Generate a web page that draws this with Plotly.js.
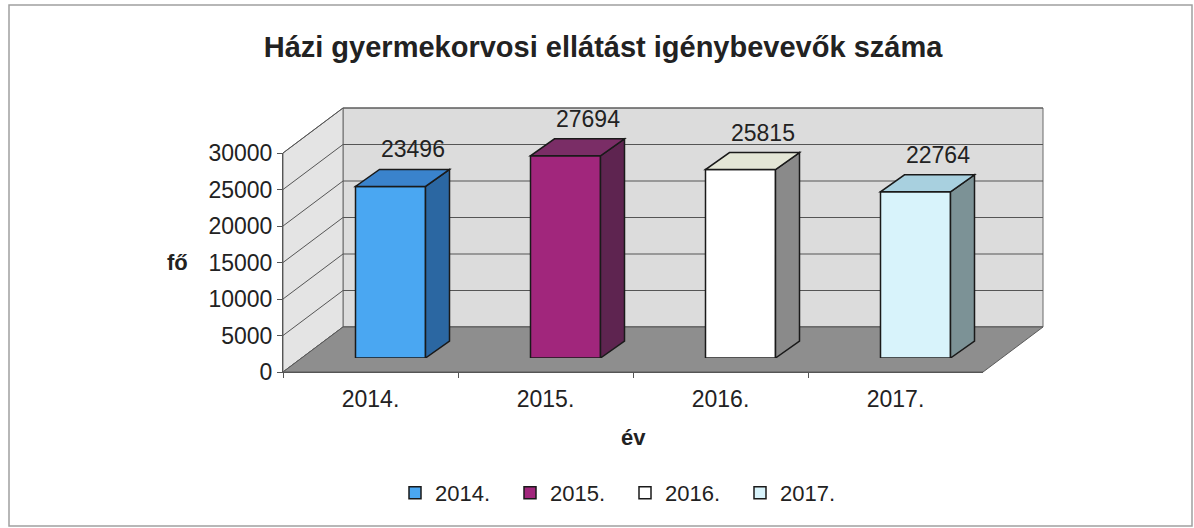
<!DOCTYPE html>
<html><head><meta charset="utf-8">
<script src="https://cdn.plot.ly/plotly-3.0.1.min.js"></script>
<style>html,body{margin:0;padding:0;background:#fff}#chart{width:1194px;height:528px}</style>
</head><body><div id="chart"></div>
<script>
// ---- data ----
const categories = ['2014.', '2015.', '2016.', '2017.'];
const values = [23496, 27694, 25815, 22764];
const yTicks = [0, 5000, 10000, 15000, 20000, 25000, 30000];
const chartTitle = 'Házi gyermekorvosi ellátást igénybevevők száma';
const xTitle = 'év';
const yTitle = 'fő';

// ---- styles ----
const frontColors = ['#4aa7f2', '#a1267c', '#ffffff', '#d8f3fb'];
const sideColors  = ['#2b67a2', '#5e2450', '#8a8a8a', '#7c9296'];
const topColors   = ['#3a83cc', '#7a2d66', '#e4e6d6', '#a8d0df'];
const FONT = '"Liberation Sans", Arial, sans-serif';
const TXT = '#222';

// ---- geometry (pixels) ----
const W = 1194, H = 528;
const YMAX = 30000, YEXT = 34000;
const G = {fx0: 283, fx1: 983, fy0: 372, fh: 219,
           barDx: 20, barDy: 14, backDx: 60, backDy: 45, depthDx: 24, depthDy: 17};
const px = x => x / W, py = y => 1 - y / H;
const n = categories.length;
const slot = (G.fx1 - G.fx0) / n;
const pxPerVal = G.fh / YMAX;
const dX = G.depthDx / slot;       // bar depth in x2 units
const dY = G.depthDy / pxPerVal;   // bar depth in y2 units
const half = 0.2;
const yFront = v => G.fy0 - v * pxPerVal;
const yBack = v => G.fy0 - G.backDy - v * pxPerVal;

// ---- traces ----
const traces = [{
  type: 'scatter', x: categories, y: values, mode: 'markers',
  marker: {opacity: 0}, showlegend: false, hoverinfo: 'skip', xaxis: 'x', yaxis: 'y'
}];
categories.forEach((c, i) => {
  traces.push({
    type: 'bar', name: c, x: [i], y: [values[i]], width: 2 * half,
    xaxis: 'x2', yaxis: 'y2',
    marker: {color: frontColors[i], line: {color: '#1a1a1a', width: 1.5}},
    hoverinfo: 'skip'
  });
});

// ---- shapes ----
const P = (x, y) => px(x) + ',' + py(y);
const shapes = [];
// back wall
shapes.push({type: 'rect', xref: 'paper', yref: 'paper', layer: 'below',
  x0: px(G.fx0 + G.backDx), x1: px(G.fx1 + G.backDx), y0: py(yBack(0)), y1: py(yBack(YMAX)),
  fillcolor: '#dcdcdc', line: {color: '#6a6a6a', width: 1}});
// left wall
shapes.push({type: 'path', xref: 'paper', yref: 'paper', layer: 'below',
  path: 'M' + P(G.fx0, yFront(0)) + 'L' + P(G.fx0, yFront(YMAX)) + 'L' + P(G.fx0 + G.backDx, yBack(YMAX)) + 'L' + P(G.fx0 + G.backDx, yBack(0)) + 'Z',
  fillcolor: '#e4e4e4', line: {color: '#6a6a6a', width: 1}});
// gridlines on back and left walls
yTicks.forEach(v => {
  shapes.push({type: 'line', xref: 'paper', yref: 'paper', layer: 'below',
    x0: px(G.fx0 + G.backDx), x1: px(G.fx1 + G.backDx), y0: py(yBack(v)), y1: py(yBack(v)),
    line: {color: '#555', width: 1}});
  shapes.push({type: 'line', xref: 'paper', yref: 'paper', layer: 'below',
    x0: px(G.fx0), x1: px(G.fx0 + G.backDx), y0: py(yFront(v)), y1: py(yBack(v)),
    line: {color: '#555', width: 1}});
});
// floor
shapes.push({type: 'path', xref: 'paper', yref: 'paper', layer: 'below',
  path: 'M' + P(G.fx0, yFront(0)) + 'L' + P(G.fx1, yFront(0)) + 'L' + P(G.fx1 + G.backDx, yBack(0)) + 'L' + P(G.fx0 + G.backDx, yBack(0)) + 'Z',
  fillcolor: '#8e8e8e', line: {color: '#5a5a5a', width: 1}});
// outer border
shapes.push({type: 'rect', xref: 'paper', yref: 'paper', layer: 'below',
  x0: px(9), x1: px(1192), y0: py(526), y1: py(5), line: {color: '#a0a0a0', width: 1.5}});
// 3D bar faces
values.forEach((v, i) => {
  const xr = i + half, xl = i - half;
  shapes.push({type: 'path', xref: 'x2', yref: 'y2', layer: 'above',
    path: `M${xr},0 L${xr},${v} L${xr + dX},${v + dY} L${xr + dX},${dY} Z`,
    fillcolor: sideColors[i], line: {color: '#1a1a1a', width: 1.5}});
  shapes.push({type: 'path', xref: 'x2', yref: 'y2', layer: 'above',
    path: `M${xl},${v} L${xr},${v} L${xr + dX},${v + dY} L${xl + dX},${v + dY} Z`,
    fillcolor: topColors[i], line: {color: '#1a1a1a', width: 1.5}});
});

// ---- annotations ----
const annotations = values.map((v, i) => ({
  xref: 'x2', yref: 'y2', x: i + dX, y: v + dY, yanchor: 'bottom', xanchor: 'center',
  yshift: 5, xshift: -2, text: String(v), showarrow: false,
  font: {family: FONT, size: 23, color: TXT}
}));
annotations.push({xref: 'paper', yref: 'paper', x: px(177), y: py(262), xanchor: 'center', yanchor: 'middle',
  showarrow: false, text: yTitle, font: {family: FONT, size: 22, color: TXT, weight: 'bold'}});
annotations.push({xref: 'paper', yref: 'paper', x: px(633), y: py(437), xanchor: 'center', yanchor: 'middle',
  showarrow: false, text: xTitle, font: {family: FONT, size: 22, color: TXT, weight: 'bold'}});

const layout = {
  width: W, height: H, margin: {l: 0, r: 0, t: 0, b: 0},
  paper_bgcolor: '#ffffff', plot_bgcolor: 'rgba(0,0,0,0)',
  font: {family: FONT, color: TXT},
  title: {text: chartTitle, x: px(603), xanchor: 'center', xref: 'paper', y: py(47), yanchor: 'middle',
    font: {family: FONT, size: 29, color: TXT, weight: 'bold'}},
  barmode: 'overlay', hovermode: false, showlegend: true,
  xaxis: {domain: [px(G.fx0), px(G.fx1)], anchor: 'y', type: 'category',
    categoryorder: 'array', categoryarray: categories, range: [-0.5, n - 0.5],
    tickson: 'boundaries', ticks: 'outside', ticklen: 5, tickcolor: '#555',
    ticklabelstandoff: 6,
    showline: true, linecolor: '#555', linewidth: 1, showgrid: false, zeroline: false,
    tickfont: {family: FONT, size: 23, color: TXT}, automargin: false, fixedrange: true},
  yaxis: {domain: [py(yFront(0)), py(yFront(YMAX))], anchor: 'x', range: [0, YMAX],
    tickvals: yTicks, tickformat: 'd', ticks: 'outside', ticklen: 5, tickcolor: '#555',
    showline: true, linecolor: '#555', linewidth: 1, showgrid: false, zeroline: false,
    tickfont: {family: FONT, size: 23, color: TXT}, automargin: false, fixedrange: true},
  xaxis2: {domain: [px(G.fx0 + G.barDx), px(G.fx1 + G.barDx)], anchor: 'y2',
    range: [-0.5, n - 0.5], visible: false, fixedrange: true},
  yaxis2: {domain: [py(G.fy0 - G.barDy), py(G.fy0 - G.barDy - YEXT * pxPerVal)], anchor: 'x2',
    range: [0, YEXT], visible: false, fixedrange: true},
  legend: {orientation: 'h', x: px(395), xanchor: 'left', y: py(493), yanchor: 'middle',
    font: {family: FONT, size: 22, color: TXT}, entrywidth: 70, entrywidthmode: 'pixels',
    itemwidth: 30, bgcolor: 'rgba(0,0,0,0)', traceorder: 'normal'},
  shapes: shapes, annotations: annotations
};

Plotly.newPlot('chart', traces, layout, {displayModeBar: false, staticPlot: true});
</script>
</body></html>
